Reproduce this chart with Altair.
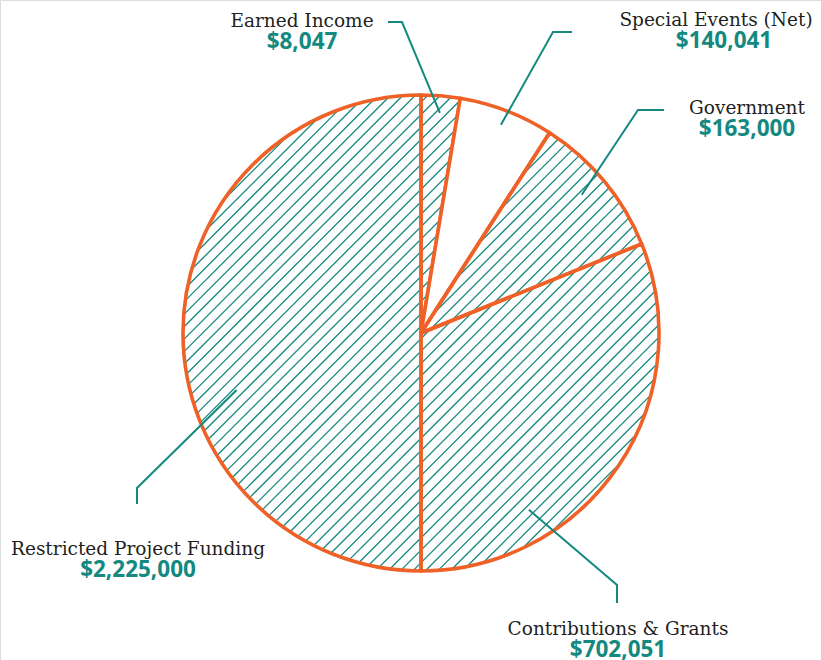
import math
import altair as alt
import pandas as pd

# ---- data ----
categories = ["Earned Income", "Special Events (Net)", "Government",
              "Contributions & Grants", "Restricted Project Funding"]
amounts = [8047, 140041, 163000, 702051, 2225000]          # label values
slice_deg = [9.5, 23.2, 35.3, 112.0, 180.0]                # slice sizes as drawn

# ---- layout / style ----
W, H = 821, 660
CX, CY, R = 421, 333, 238
ORANGE = "#ef6127"
TEAL = "#14897f"
TEXT = "#231f20"
HATCH_GAP = 8.8        # perpendicular spacing of the hatch lines (px)
HATCH_WIDTH = 1.3

# label layout: name centre x, value centre x, name baseline y
label_x = [302, 716, 747, 618, 138]
value_x = [302, 724, 747, 618, 138]
name_base = [27, 26, 114, 635, 555]
LINE_GAP = 22

# leader lines: tip in polar (deg clockwise from top, radius px), elbow, end (px)
leader_tip = [(4.9, 221), (21.0, 223), (49.3, 212), (148.6, 207), (252.8, 193)]
leader_elbow = [(402, 22), (553, 32), (638, 110), (617, 585), (137, 488)]
leader_end = [(388, 22), (572, 32), (664, 110), (617, 603), (137, 504)]

# ---- tables ----
slices = pd.DataFrame({"category": categories, "share": slice_deg,
                       "idx": list(range(len(categories)))})

labels = pd.DataFrame({
    "category": categories,
    "amount": amounts,
    "nx": label_x, "vx": value_x,
    "ny": name_base,
    "vy": [b + LINE_GAP for b in name_base],
})

rows = []
for c, (ang, r), e, f in zip(categories, leader_tip, leader_elbow, leader_end):
    a = math.radians(ang)
    rows.append({"category": c, "step": 0, "x": CX + r * math.sin(a), "y": CY - r * math.cos(a)})
    rows.append({"category": c, "step": 1, "x": e[0], "y": e[1]})
    rows.append({"category": c, "step": 2, "x": f[0], "y": f[1]})
leaders = pd.DataFrame(rows)

# ---- hatch pattern: 45-degree chords of the pie's disc ----
hrows = []
k = 0
s2 = math.sqrt(0.5)
while True:
    d = -R + HATCH_GAP / 2 + k * HATCH_GAP
    if d >= R:
        break
    half = math.sqrt(R * R - d * d)
    px, py = CX + d * s2, CY + d * s2
    hrows.append({"x": px - half * s2, "y": py + half * s2,
                  "x2": px + half * s2, "y2": py - half * s2})
    k += 1
hatch = pd.DataFrame(hrows)

xs = alt.Scale(domain=[0, W], nice=False, zero=False)
ys = alt.Scale(domain=[0, H], nice=False, zero=False, reverse=True)

hatch_lines = alt.Chart(hatch).mark_rule(color=TEAL, strokeWidth=HATCH_WIDTH).encode(
    x=alt.X("x:Q", scale=xs, axis=None),
    y=alt.Y("y:Q", scale=ys, axis=None),
    x2="x2:Q",
    y2="y2:Q",
)

wedges = alt.Chart(slices).mark_arc(
    radius=R, stroke=ORANGE, strokeWidth=3.6, strokeJoin="round"
).encode(
    theta=alt.Theta("share:Q", stack=True),
    order=alt.Order("idx:Q"),
    x=alt.value(CX), y=alt.value(CY),
    fill=alt.condition(alt.datum.category == "Special Events (Net)",
                       alt.value("#ffffff"), alt.value("transparent")),
)

lines = alt.Chart(leaders).mark_line(color=TEAL, strokeWidth=2).encode(
    x=alt.X("x:Q", scale=xs, axis=None),
    y=alt.Y("y:Q", scale=ys, axis=None),
    detail="category:N",
    order="step:O",
)

names = alt.Chart(labels).mark_text(
    font="DejaVu Serif", fontSize=18.5, color=TEXT, align="center", baseline="alphabetic"
).encode(
    x=alt.X("nx:Q", scale=xs, axis=None),
    y=alt.Y("ny:Q", scale=ys, axis=None),
    text="category:N",
)

values = alt.Chart(labels).mark_text(
    font="Open Sans", fontSize=22.5, fontWeight="bold", color=TEAL,
    align="center", baseline="alphabetic"
).encode(
    x=alt.X("vx:Q", scale=xs, axis=None),
    y=alt.Y("vy:Q", scale=ys, axis=None),
    text=alt.Text("amount:Q", format="$,"),
)

chart = alt.layer(hatch_lines, wedges, lines, names, values).properties(
    width=W, height=H, padding=0, autosize=alt.AutoSizeParams(type="none")
).configure_view(stroke=None).configure(background="#ffffff")

chart.save("out.html", embed_options={"renderer": "svg", "actions": False})
